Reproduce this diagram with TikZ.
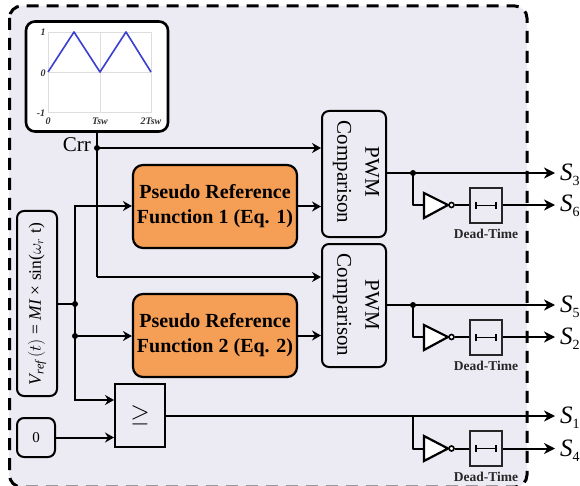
\documentclass[tikz,border=0pt]{standalone}
\usepackage{fontspec}
\setmainfont{Liberation Serif}
\usetikzlibrary{arrows.meta,calc}
\definecolor{panelbg}{HTML}{ECEAF2}
\definecolor{orangefill}{HTML}{F59E55}
\definecolor{carrier}{HTML}{3A3FD0}
\definecolor{gridc}{HTML}{DDDDDD}
\tikzset{
  panelfill/.style={fill=panelbg,rounded corners=12pt},
  paneledge/.style={draw=black,line width=3pt,line cap=butt,dash pattern=on 12pt off 8pt,rounded corners=12pt},
  wire/.style={draw=black,line width=2pt},
  arr/.style={wire,-{Stealth[length=9pt,width=10pt,inset=3pt]}},
  outarr/.style={wire,-{Stealth[length=11pt,width=11pt,inset=3.5pt]}},
  jdot/.style={circle,fill=black,inner sep=0pt,minimum size=6pt},
  rbox/.style={draw=black,line width=2pt,rounded corners=7pt,fill=panelbg,inner sep=0pt,align=center},
  chartbox/.style={draw=black,line width=2.6pt,rounded corners=9pt,fill=white,inner sep=0pt,minimum width=142pt,minimum height=110pt},
  funcbox/.style={rbox,line width=2.2pt,fill=orangefill,minimum width=164pt,minimum height=83pt,rounded corners=10pt,font=\fontsize{20}{25}\selectfont\bfseries},
  pwmbox/.style={rbox,minimum width=64pt},
  pwmtext/.style={inner sep=0pt,rotate=-90,align=center,font=\fontsize{21}{28}\selectfont},
  plain/.style={inner sep=0pt},
  tickl/.style={inner sep=0pt,font=\fontsize{10}{10}\selectfont\bfseries\itshape,text=black!80},
  inv/.style={draw=black,line width=2.2pt,fill=white,line join=miter},
  bubble/.style={circle,draw=black,line width=1.6pt,fill=white,inner sep=0pt,minimum size=5pt},
  dtbox/.style={draw=black!85,line width=1.6pt,fill=panelbg,inner sep=0pt,minimum width=32pt,minimum height=35pt},
  dtlabel/.style={inner sep=0pt,font=\fontsize{13.5}{14}\selectfont\bfseries,text=black!85},
  dtbar/.style={line width=1.6pt,{Bar[width=7pt,length=1pt]}-{Bar[width=7pt,length=1pt]}},
  outlabel/.style={inner sep=0pt,anchor=west,font=\fontsize{25}{25}\selectfont}
}
\newcommand{\outS}[1]{\textit{S}\raisebox{-5pt}{\fontsize{14}{14}\selectfont #1}}
\begin{document}
\begin{tikzpicture}[x=1pt,y=-1pt]
\useasboundingbox (0,0) rectangle (580,486);
\clip (0,0) rectangle (580,486);
\path[panelfill] (9,6) rectangle (527,487);
\path[paneledge] (9.5,6) rectangle (527,487);

% carrier chart
\node[chartbox] (chart) at (97,76.5) {};
\draw[gridc,line width=0.8pt] (48,32) rectangle (151,112);
\draw[gridc,line width=0.5pt] (48,72) -- (151,72) (100,32) -- (100,112);
\draw[carrier,line width=1.6pt,line join=round] (48,72) -- (74,32) -- (100,72) -- (126,32) -- (151,72);
\node[tickl] (y1) at (43,32) {1};
\node[tickl] (y0) at (43,73) {0};
\node[tickl] (ym) at (41,113) {-1};
\node[tickl] (x0) at (48,121) {0};
\node[tickl] (x1) at (100,121) {Tsw};
\node[tickl] (x2) at (151,121) {2Tsw};

% blocks
\node[funcbox] (f1) at (215,206.5) {Pseudo Reference\\Function 1 (Eq. 1)};
\node[funcbox] (f2) at (215,335.5) {Pseudo Reference\\Function 2 (Eq. 2)};
\node[pwmbox,minimum height=126pt] (p1) at (354,174) {};
\node[pwmbox,minimum height=123pt] (p2) at (354,305.5) {};
\node[pwmtext] (p1t) at (356,172) {PWM\\Comparison};
\node[pwmtext] (p2t) at (356,305) {PWM\\Comparison};
\node[rbox,minimum width=40pt,minimum height=185pt] (vref) at (37,303.5) {};
\node[plain,rotate=90,font=\fontsize{17.5}{20}\selectfont] (vreft) at (37,304) {$\mathit{V_{ref}}\,(t)$ = \textit{MI} × sin($\omega_r$ t)};
\node[rbox,minimum width=38pt,minimum height=39pt,font=\fontsize{15}{15}\selectfont] (zero) at (36,437.5) {0};
\node[draw=black,line width=2pt,fill=panelbg,inner sep=0pt,minimum width=50pt,minimum height=63pt] (cmp) at (140,415.5) {};
\node[plain,font=\fontsize{28}{28}\selectfont] (cmpt) at (140,415) {$\geq$};
\node[plain,font=\fontsize{21}{21}\selectfont,anchor=east] (crr) at (91,145) {Crr};

% junctions
\coordinate (cj) at (97,148);
\coordinate (cb) at (97,277);
\coordinate (vj) at (75,304);
\coordinate (vt) at (75,206);
\coordinate (vm) at (75,336);
\coordinate (vb) at (75,400);
\coordinate (e1) at (555,173);
\coordinate (e3) at (555,305);
\coordinate (e5) at (555,416);
\coordinate (j1) at (413,173);
\coordinate (j3) at (413,305);
\coordinate (j5) at (413,416);

% carrier wires
\draw[wire] (chart.south -| cj) -- (cb);
\draw[arr] (cj) -- (cj -| p1.west);
\draw[arr] (cb) -- (cb -| p2.west);
\node[jdot] at (cj) {};

% reference wires
\draw[wire] (vref.east |- vj) -- (vj);
\draw[wire,line cap=rect] (vt) -- (vb);
\draw[arr] (vt) -- (f1.west |- vt);
\draw[arr] (vm) -- (f2.west |- vm);
\draw[arr] (vb) -- (cmp.west |- vb);
\draw[arr] (zero.east) -- (cmp.west |- zero.east);
\node[jdot] at (vj) {};
\node[jdot] at (vm) {};

% function blocks into comparators
\draw[arr] (f1.east) -- (p1.west |- f1.east);
\draw[arr] (f2.east) -- (p2.west |- f2.east);

% outputs
\draw[outarr] (p1.east |- e1) -- (e1);
\draw[outarr] (p2.east |- e3) -- (e3);
\draw[outarr] (cmp.east |- e5) -- (e5);
\node[jdot] at (j1) {};
\node[jdot] at (j3) {};

% dead-time branch 1
\node[dtbox] (dt1) at (486,205.5) {};
\node[dtlabel] (dl1) at (486,234) {Dead-Time};
\coordinate (t1) at (424,205);
\draw[inv] (t1 |- 0,193) -- (448,205) -- (t1 |- 0,218) -- cycle;
\node[bubble] (b1) at (451.5,205) {};
\draw[wire,line join=round] (j1) -- (413,205) -- (t1);
\draw[wire] (b1) -- (dt1.west |- b1);
\draw[outarr] (dt1.east |- b1) -- (555,205);
\draw[dtbar] ($(dt1.center)+(-11,0)$) -- ($(dt1.center)+(11,0)$);

% dead-time branch 2
\node[dtbox] (dt2) at (486,337.5) {};
\node[dtlabel] (dl2) at (486,366) {Dead-Time};
\coordinate (t2) at (424,337);
\draw[inv] (t2 |- 0,325) -- (448,337) -- (t2 |- 0,350) -- cycle;
\node[bubble] (b2) at (451.5,337) {};
\draw[wire,line join=round] (j3) -- (413,337) -- (t2);
\draw[wire] (b2) -- (dt2.west |- b2);
\draw[outarr] (dt2.east |- b2) -- (555,337);
\draw[dtbar] ($(dt2.center)+(-11,0)$) -- ($(dt2.center)+(11,0)$);

% dead-time branch 3
\node[dtbox] (dt3) at (486,448.5) {};
\node[dtlabel] (dl3) at (486,477) {Dead-Time};
\coordinate (t3) at (424,448.5);
\draw[inv] (t3 |- 0,436) -- (448,448.5) -- (t3 |- 0,461) -- cycle;
\node[bubble] (b3) at (451.5,448.5) {};
\draw[wire,line join=round] (j5) -- (413,448.5) -- (t3);
\draw[wire] (b3) -- (dt3.west |- b3);
\draw[outarr] (dt3.east |- b3) -- (555,448.5);
\draw[dtbar] ($(dt3.center)+(-11,0)$) -- ($(dt3.center)+(11,0)$);

% output labels
\node[outlabel] (s3) at (560,175) {\outS{3}};
\node[outlabel] (s6) at (560,206) {\outS{6}};
\node[outlabel] (s5) at (560,307) {\outS{5}};
\node[outlabel] (s2) at (560,339) {\outS{2}};
\node[outlabel] (s1) at (560,418) {\outS{1}};
\node[outlabel] (s4) at (560,451) {\outS{4}};
\end{tikzpicture}
\end{document}
